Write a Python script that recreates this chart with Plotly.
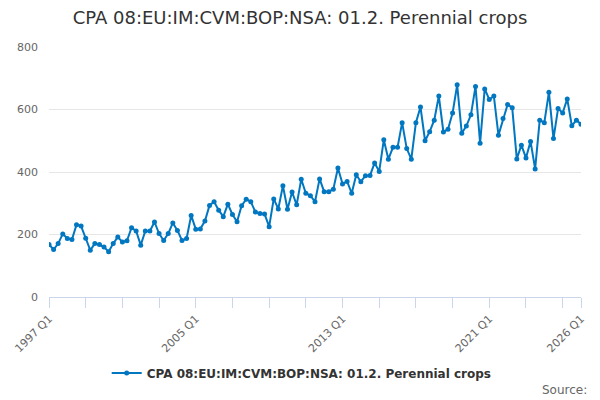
import plotly.graph_objects as go

# quarterly values, 1997 Q1 .. 2026 Q1
years = list(range(1997, 2027))
quarters = [f"{y} Q{q}" for y in years for q in range(1, 5)][:117]

values = [
    168, 152, 171, 202,
    187, 184, 231, 227,
    188, 150, 171, 168,
    160, 145, 171, 192,
    176, 180, 222, 211,
    166, 211, 211, 240,
    203, 181, 203, 237,
    213, 181, 187, 261,
    217, 218, 243, 293,
    305, 278, 257, 297,
    264, 241, 292, 313,
    305, 272, 267, 266,
    225, 314, 282, 356,
    281, 336, 295, 377,
    332, 324, 305, 378,
    337, 337, 345, 413,
    362, 370, 332, 391,
    369, 388, 389, 429,
    402, 503, 441, 479,
    479, 558, 475, 441,
    558, 608, 500, 529,
    566, 643, 528, 537,
    589, 679, 524, 547,
    583, 674, 492, 666,
    632, 643, 518, 571,
    616, 606, 442, 486,
    445, 498, 410, 566,
    558, 655, 507, 603,
    589, 634, 548, 566,
    553,
]

series_name = "CPA 08:EU:IM:CVM:BOP:NSA: 01.2. Perennial crops"
labelled = ["1997 Q1", "2005 Q1", "2013 Q1", "2021 Q1", "2026 Q1"]
tick_vals = quarters[::8] + [quarters[-1]]
tick_text = [q if q in labelled else "" for q in tick_vals]

fig = go.Figure()
fig.add_trace(go.Scatter(
    x=quarters, y=values, name=series_name,
    mode="lines+markers",
    line=dict(color="#0077c0", width=2),
    marker=dict(color="#0077c0", size=5),
))

fig.update_layout(
    width=600, height=400,
    margin=dict(l=47, r=19, t=47, b=103),
    paper_bgcolor="white", plot_bgcolor="white",
    font=dict(family="DejaVu Sans", color="#666666", size=11),
    title=dict(text=series_name, x=0.5, xanchor="center", y=0.955,
               yanchor="middle", font=dict(size=18, color="#333333")),
    showlegend=True,
    legend=dict(orientation="h", x=0.475, xanchor="center", y=-0.304,
                yanchor="middle",
                font=dict(size=12, color="#333333", weight="bold")),
    xaxis=dict(
        type="category", range=[0, len(quarters) - 1],
        tickmode="array", tickvals=tick_vals, ticktext=tick_text,
        tickangle=-45, ticks="outside", ticklen=10, tickcolor="#ccd6eb",
        showline=True, linecolor="#ccd6eb", showgrid=False, zeroline=False,
    ),
    yaxis=dict(
        range=[0, 800], dtick=200, gridcolor="#e6e6e6", zeroline=False,
        showline=False, ticklabelstandoff=10,
    ),
    annotations=[dict(
        text="Source:", xref="paper", yref="paper", x=1.015, y=-0.372,
        xanchor="right", yanchor="middle", showarrow=False,
        font=dict(size=12, color="#666666"),
    )],
)

fig.write_html("out.html", config={"displayModeBar": False},
               post_script="document.body.style.margin='0';")
